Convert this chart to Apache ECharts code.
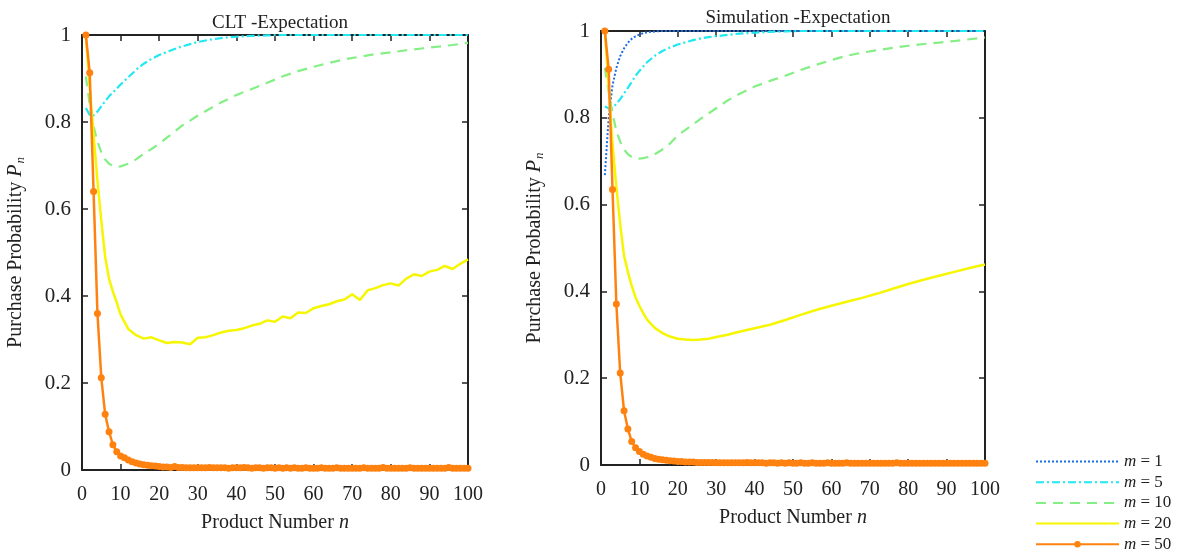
<!DOCTYPE html>
<html>
<head>
<meta charset="utf-8">
<script src="https://cdn.jsdelivr.net/npm/echarts@6/dist/echarts.min.js"></script>
<style>
  html, body { margin: 0; padding: 0; background: #fff; }
  #main { width: 1181px; height: 550px; }
</style>
</head>
<body>
<div id="main"></div>
<script>
// sample points for the smooth curves
const nLine = [1,2,3,4,5,6,7,8,9,10,11,12,14,16,18,20,22,24,26,28,30,33,36,40,44,48,52,56,60,64,68,72,76,80,84,88,92,96,100];
// denser points for the noisy CLT m=20 curve
const nNoisy = [1,2,3,4,5,6,7,8,9,10,12,14,16,18,20,22,24,26,28,30,32,34,36,38,40,42,44,46,48,50,
  52,54,56,58,60,62,64,66,68,70,72,74,76,78,80,82,84,86,88,90,92,94,96,98,100];
// every product number, for the m=50 curve with markers
const nAll = [];
for (let i = 1; i <= 100; i++) nAll.push(i);

const seriesNames = ['m = 1', 'm = 5', 'm = 10', 'm = 20', 'm = 50'];

// CLT - Expectation (left)
const cltM5 = [0.832,0.816,0.815,0.824,0.836,0.848,0.859,0.868,0.877,0.886,0.895,0.903,0.920,0.934,0.945,0.954,0.961,0.968,0.974,0.979,
  0.984,0.989,0.993,0.996,0.998,0.999,1,1,1,1,1,1,1,1,1,1,1,1,1];
const cltM10 = [0.905,0.840,0.790,0.755,0.730,0.714,0.704,0.699,0.697,0.698,0.701,0.704,0.714,0.727,0.738,0.750,0.764,0.778,0.792,0.803,
  0.815,0.830,0.845,0.862,0.876,0.890,0.905,0.917,0.927,0.936,0.944,0.950,0.956,0.960,0.965,0.969,0.973,0.977,0.982];
const cltM20 = [1.0,0.88,0.77,0.665,0.573,0.49,0.44,0.41,0.385,0.357,0.324,0.310,0.302,0.305,0.298,0.292,0.294,0.293,0.289,0.304,
  0.305,0.310,0.316,0.320,0.322,0.326,0.332,0.336,0.344,0.341,0.353,0.349,0.362,0.361,0.372,0.377,0.381,0.388,0.392,0.404,
  0.391,0.413,0.418,0.425,0.429,0.424,0.440,0.450,0.446,0.456,0.460,0.469,0.462,0.474,0.484];
const cltM50 = [
  1.0,0.913,0.64,0.36,0.212,0.128,0.088,0.058,0.042,0.032,
  0.028,0.023,0.019,0.016,0.014,0.012,0.011,0.010,0.009,0.008,
  0.007,0.007,0.006,0.008,0.006,0.006,0.005,0.005,0.005,0.005,
  0.005,0.005,0.006,0.005,0.005,0.005,0.005,0.004,0.005,0.005,
  0.005,0.006,0.005,0.004,0.005,0.005,0.004,0.005,0.005,0.004,
  0.005,0.004,0.005,0.004,0.005,0.004,0.004,0.005,0.004,0.004,
  0.004,0.005,0.004,0.004,0.004,0.005,0.004,0.004,0.004,0.004,
  0.004,0.004,0.005,0.004,0.004,0.004,0.004,0.006,0.004,0.004,
  0.004,0.004,0.004,0.004,0.005,0.004,0.004,0.004,0.004,0.004,
  0.004,0.004,0.004,0.004,0.006,0.004,0.004,0.004,0.004,0.004];

// Simulation - Expectation (right)
const simM1 = [0.668,0.800,0.875,0.915,0.942,0.960,0.973,0.982,0.988,0.992,0.995,0.997,0.999,1,1,1,1,1,1,1,
  1,1,1,1,1,1,1,1,1,1,1,1,1,1,1,1,1,1,1];
const simM5 = [0.826,0.822,0.823,0.832,0.843,0.856,0.869,0.883,0.897,0.908,0.918,0.928,0.943,0.954,0.962,0.969,0.974,0.979,0.983,0.986,
  0.988,0.991,0.994,0.996,0.998,0.999,1,1,1,1,1,1,1,1,1,1,1,1,1];
const simM10 = [0.915,0.860,0.810,0.770,0.745,0.727,0.716,0.710,0.707,0.706,0.707,0.709,0.716,0.727,0.741,0.760,0.772,0.785,0.798,0.810,
  0.822,0.840,0.855,0.872,0.885,0.897,0.910,0.922,0.933,0.943,0.950,0.956,0.961,0.966,0.970,0.973,0.977,0.981,0.985];
const simM20 = [1.0,0.87,0.74,0.64,0.555,0.482,0.445,0.413,0.386,0.367,0.350,0.335,0.316,0.304,0.296,0.291,0.289,0.288,0.289,0.291,
  0.295,0.300,0.307,0.315,0.323,0.334,0.346,0.357,0.367,0.376,0.385,0.395,0.406,0.417,0.427,0.436,0.445,0.454,0.462];
const simM50 = [
  1.0,0.912,0.635,0.371,0.212,0.125,0.083,0.054,0.040,0.031,
  0.025,0.021,0.018,0.015,0.013,0.012,0.011,0.010,0.009,0.008,
  0.008,0.007,0.007,0.007,0.006,0.006,0.006,0.006,0.006,0.005,
  0.005,0.005,0.005,0.005,0.005,0.005,0.005,0.006,0.005,0.005,
  0.005,0.005,0.004,0.005,0.005,0.004,0.005,0.004,0.005,0.004,
  0.004,0.005,0.004,0.004,0.005,0.004,0.004,0.004,0.005,0.004,
  0.004,0.004,0.004,0.005,0.004,0.004,0.004,0.004,0.004,0.004,
  0.004,0.004,0.004,0.004,0.004,0.004,0.005,0.004,0.004,0.004,
  0.004,0.004,0.004,0.004,0.004,0.004,0.004,0.004,0.004,0.004,
  0.004,0.004,0.004,0.004,0.004,0.004,0.004,0.004,0.004,0.004];

const FONT = '"Liberation Serif", "DejaVu Serif", serif';
const INK = '#222';
const colors = { 'm = 1': '#1b6fe6', 'm = 5': '#22e8f2', 'm = 10': '#84ef84', 'm = 20': '#f6f600', 'm = 50': '#ff8210' };
const dashes = { 'm = 1': [2, 2], 'm = 5': [8, 3, 2, 3], 'm = 10': [10, 7], 'm = 20': 'solid', 'm = 50': 'solid' };
const widths = { 'm = 1': 2, 'm = 5': 2.2, 'm = 10': 2.2, 'm = 20': 2.5, 'm = 50': 2.5 };

function zip(xs, ys) {
  return xs.map((x, i) => [x, ys[i]]);
}

const chart = echarts.init(document.getElementById('main'));

const grids = [
  { left: 82, top: 35, width: 386, height: 435 },
  { left: 601, top: 31, width: 384, height: 434 }
];

const frameLine = { show: true, onZero: false, lineStyle: { color: INK, width: 2 } };
const frameTick = { show: true, inside: true, length: 6, lineStyle: { color: INK, width: 1.5 } };

function xAxes(gi) {
  return [
    {
      gridIndex: gi, type: 'value', min: 0, max: 100, interval: 10, position: 'bottom',
      name: '{t|Product Number }{i|n}', nameLocation: 'middle', nameGap: 43,
      nameTextStyle: { rich: {
        t: { fontFamily: FONT, fontSize: 20, color: INK },
        i: { fontFamily: FONT, fontSize: 20, color: INK, fontStyle: 'italic' }
      } },
      axisLine: frameLine, axisTick: frameTick,
      axisLabel: { margin: 15, fontFamily: FONT, fontSize: 20, color: INK },
      splitLine: { show: false }
    },
    {
      gridIndex: gi, type: 'value', min: 0, max: 100, interval: 10, position: 'top',
      axisLine: frameLine, axisTick: frameTick,
      axisLabel: { show: false },
      splitLine: { show: false }
    }
  ];
}

function yAxes(gi) {
  return [
    {
      gridIndex: gi, type: 'value', min: 0, max: 1, interval: 0.2, position: 'left',
      name: '{t|Purchase Probability }{i|P}{s|n}', nameLocation: 'middle', nameGap: 54,
      nameTextStyle: { rich: {
        t: { fontFamily: FONT, fontSize: 20, color: INK, lineHeight: 24 },
        i: { fontFamily: FONT, fontSize: 20, color: INK, fontStyle: 'italic', lineHeight: 24 },
        s: { fontFamily: FONT, fontSize: 13, color: INK, fontStyle: 'italic', padding: [9, 0, 0, 1] }
      } },
      axisLine: frameLine, axisTick: frameTick,
      axisLabel: { margin: 11, fontFamily: FONT, fontSize: 21, color: INK },
      splitLine: { show: false }
    },
    {
      gridIndex: gi, type: 'value', min: 0, max: 1, interval: 0.2, position: 'right',
      axisLine: frameLine, axisTick: frameTick,
      axisLabel: { show: false },
      splitLine: { show: false }
    }
  ];
}

function lineSeries(name, gi, xs, ys) {
  const withDots = name === 'm = 50';
  return {
    name: name, type: 'line',
    xAxisIndex: gi * 2, yAxisIndex: gi * 2,
    data: zip(xs, ys),
    showSymbol: withDots, symbol: withDots ? 'circle' : 'none', symbolSize: 7,
    lineStyle: { color: colors[name], width: widths[name], type: dashes[name] },
    itemStyle: { color: colors[name] },
    emphasis: { disabled: true }
  };
}

// legend entries: only m = 50 keeps its marker
const legendData = seriesNames.map(name => name === 'm = 50'
  ? { name: name }
  : { name: name, itemStyle: { opacity: 0 } });

const option = {
  animation: false,
  backgroundColor: '#fff',
  title: [
    { text: 'CLT -Expectation', left: 275, textAlign: 'center', top: 9,
      textStyle: { fontFamily: FONT, fontSize: 19, fontWeight: 'normal', color: INK } },
    { text: 'Simulation -Expectation', left: 793, textAlign: 'center', top: 4,
      textStyle: { fontFamily: FONT, fontSize: 19, fontWeight: 'normal', color: INK } }
  ],
  legend: {
    orient: 'vertical', left: 1035, top: 453, height: 120, padding: 0,
    itemWidth: 83, itemHeight: 8, itemGap: 3.7,
    data: legendData,
    formatter: function (name) { return '{i|m}{r|' + name.slice(1) + '}'; },
    textStyle: { fontFamily: FONT, fontSize: 17, color: INK,
      rich: {
        i: { fontFamily: FONT, fontSize: 17, color: INK, fontStyle: 'italic', lineHeight: 14 },
        r: { fontFamily: FONT, fontSize: 17, color: INK, lineHeight: 14 }
      } }
  },
  grid: grids,
  xAxis: xAxes(0).concat(xAxes(1)),
  yAxis: yAxes(0).concat(yAxes(1)),
  series: [
    lineSeries('m = 5', 0, nLine, cltM5),
    lineSeries('m = 10', 0, nLine, cltM10),
    lineSeries('m = 20', 0, nNoisy, cltM20),
    lineSeries('m = 50', 0, nAll, cltM50),
    lineSeries('m = 1', 1, nLine, simM1),
    lineSeries('m = 5', 1, nLine, simM5),
    lineSeries('m = 10', 1, nLine, simM10),
    lineSeries('m = 20', 1, nLine, simM20),
    lineSeries('m = 50', 1, nAll, simM50)
  ]
};

chart.setOption(option);
</script>
</body>
</html>
